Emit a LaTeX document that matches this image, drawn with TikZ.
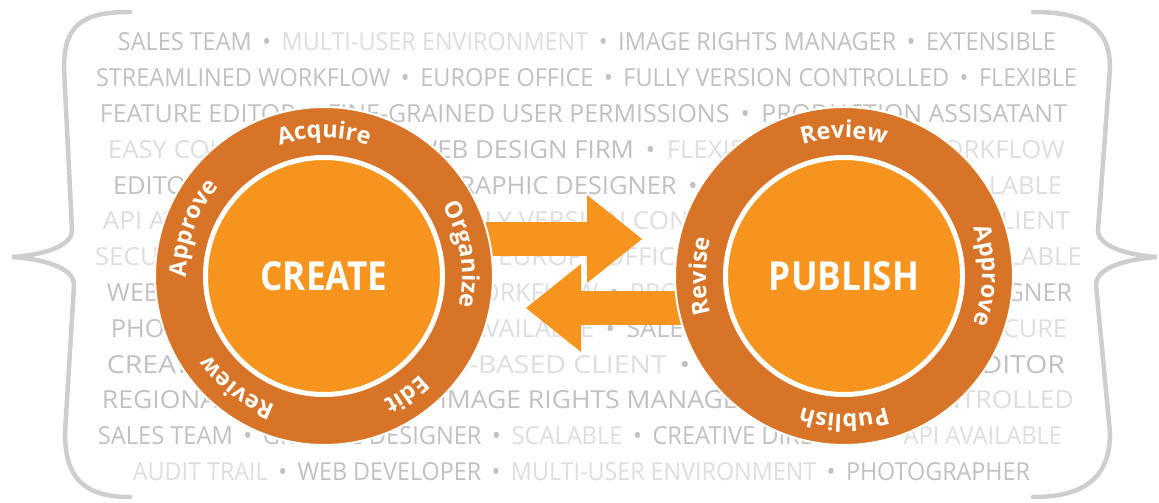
\documentclass[tikz,border=0pt]{standalone}
\usepackage{fontspec}
\setmainfont{Open Sans}
\usetikzlibrary{positioning,arrows.meta,decorations.text}
\definecolor{ringOrange}{HTML}{D87427}
\definecolor{coreOrange}{HTML}{F7941D}
\definecolor{braceGray}{HTML}{CDCED0}
\definecolor{wordGray}{HTML}{C0C1C3}
\definecolor{wordPale}{HTML}{DDDEDF}
\tikzset{
    ring/.style = {draw=white, line width=2pt, circle, fill=ringOrange,
        minimum size=338pt, inner sep=0pt},
    core/.style = {draw=white, line width=5pt, circle, fill=coreOrange,
        minimum size=237pt, inner sep=0pt, text=white, font=\corefont},
    flow/.style = {draw=coreOrange, line width=34pt,
        -{Triangle[length=55pt,width=88pt,line width=0pt]}},
    brace/.style = {draw=braceGray, line width=4.5pt, line cap=round},
    words/.style = {anchor=base, inner sep=0pt, font=\wordfont}
}
\newcommand\corefont{\fontsize{40}{40}\selectfont\bfseries}
\newcommand\wordfont{\fontsize{26}{26}\selectfont}
\newcommand\labelfont{\fontsize{23.5}{23.5}\selectfont\bfseries}
\newcommand\wdark[1]{\textcolor{wordGray}{#1}}
\newcommand\wpale[1]{\textcolor{wordPale}{#1}}
\newcommand\bul{\textcolor{wordGray}{\hspace{.45em}\textbullet\hspace{.45em}}}
% one line of the word cloud: index, centre x, width, words
\newcommand\wordrow[4]{\node[words] (row#1) at (#2, {452-35.8*(#1-1)}) {\resizebox{#3pt}{18pt}{#4}};}
% curved label on a ring: ring node, angle, text
\newcommand\ringlabel[3]{\path[decorate, decoration={text along path, text align=center,
    text color=white, text={|\labelfont|#3}}]
    (#1.center) ++(#2+50:138pt) arc[start angle=#2+50, end angle=#2-50, radius=138pt];}
\pgfdeclarelayer{backdrop}
\pgfdeclarelayer{flows}
\pgfsetlayers{backdrop,flows,main}

\begin{document}
\begin{tikzpicture}[x=1pt, y=1pt]
    \begin{pgfonlayer}{backdrop}
    \fill[white, use as bounding box] (0,0) rectangle (1159,503);
    % braces
    \draw[brace] (130,491) .. controls (82,491) and (64,478) .. (64,435) -- (72,273)
        .. controls (72,256) and (42,248) .. (12,246)
        .. controls (42,244) and (74,236) .. (74,218) -- (65,70)
        .. controls (65,25) and (84,6) .. (130,6);
    \draw[brace] (1033,491) .. controls (1082,491) and (1110,478) .. (1110,435) -- (1098,273)
        .. controls (1098,256) and (1128,248) .. (1157,246)
        .. controls (1128,244) and (1096,236) .. (1096,218) -- (1110,70)
        .. controls (1110,25) and (1084,6) .. (1033,6);
    % word cloud
    \wordrow{1}{587}{938}{\wdark{SALES TEAM}\bul\wpale{MULTI-USER ENVIRONMENT}\bul\wdark{IMAGE RIGHTS MANAGER}\bul\wdark{EXTENSIBLE}}
    \wordrow{2}{586.5}{981}{\wdark{STREAMLINED WORKFLOW}\bul\wdark{EUROPE OFFICE}\bul\wdark{FULLY VERSION CONTROLLED}\bul\wdark{FLEXIBLE}}
    \wordrow{3}{583.5}{967}{\wdark{FEATURE EDITOR}\bul\wdark{FINE-GRAINED USER PERMISSIONS}\bul\wdark{PRODUCTION ASSISATANT}}
    \wordrow{4}{586.5}{957}{\wpale{EASY COLLABORATION}\bul\wdark{WEB DESIGN FIRM}\bul\wpale{FLEXIBLE}\bul\wpale{CUSTOM WORKFLOW}}
    \wordrow{5}{587.5}{949}{\wdark{EDITORIAL DEPARTMENT}\bul\wdark{GRAPHIC DESIGNER}\bul\wpale{WEB DEVELOPER}\bul\wpale{SCALABLE}}
    \wordrow{6}{586.5}{967}{\wpale{API AVAILABLE}\bul\wpale{SECURE}\bul\wpale{FULLY VERSION CONTROLLED}\bul\wpale{WEB-BASED CLIENT}}
    \wordrow{7}{588.5}{987}{\wpale{SECURE}\bul\wpale{CREATIVE DIRECTOR}\bul\wpale{EUROPE OFFICE}\bul\wpale{PHOTOGRAPHER}\bul\wpale{SCALABLE}}
    \wordrow{8}{589.5}{965}{\wdark{WEB EDITOR}\bul\wpale{STREAMLINED WORKFLOW}\bul\wpale{PRODUCTION ASSISTANT}\bul\wdark{DESIGNER}}
    \wordrow{9}{589}{956}{\wdark{PHOTOGRAPHY STUDIO}\bul\wpale{API AVAILABLE}\bul\wdark{SALES TEAM}\bul\wpale{EXTENSIBLE}\bul\wpale{SECURE}}
    \wordrow{10}{586}{958}{\wdark{CREATIVE DIRECTOR}\bul\wpale{WEB-BASED CLIENT}\bul\wpale{SECURE}\bul\wdark{FEATURE EDITOR}}
    \wordrow{11}{588}{972}{\wdark{REGIONAL SALES OFFICE}\bul\wdark{IMAGE RIGHTS MANAGER}\bul\wpale{VERSION CONTROLLED}}
    \wordrow{12}{580}{964}{\wdark{SALES TEAM}\bul\wdark{GRAPHIC DESIGNER}\bul\wpale{SCALABLE}\bul\wdark{CREATIVE DIRECTOR}\bul\wpale{API AVAILABLE}}
    \wordrow{13}{581.5}{897}{\wpale{AUDIT TRAIL}\bul\wdark{WEB DEVELOPER}\bul\wpale{MULTI-USER ENVIRONMENT}\bul\wdark{PHOTOGRAPHER}}
    \end{pgfonlayer}

    \node[ring] (createring) at (324,227) {};
    \node[ring, right=180pt of createring] (publishring) {};
    \node[core] (create) at (createring) {\scalebox{.88}[1]{CREATE}};
    \node[core] (publish) at (publishring) {\scalebox{.88}[1]{PUBLISH}};

    \begin{pgfonlayer}{flows}
    \draw[flow] ([yshift=37pt]createring.center) -- ([xshift=-32pt,yshift=37pt]publishring.west);
    \draw[flow] ([yshift=-32pt]publishring.center) -- ([xshift=32pt,yshift=-32pt]createring.east);
    \end{pgfonlayer}

    \ringlabel{createring}{90}{Acquire}
    \ringlabel{createring}{9}{Organize}
    \ringlabel{createring}{-55}{Edit}
    \ringlabel{createring}{-128}{Review}
    \ringlabel{createring}{160}{Approve}
    \ringlabel{publishring}{90}{Review}
    \ringlabel{publishring}{0}{Approve}
    \ringlabel{publishring}{-90}{Publish}
    \ringlabel{publishring}{180}{Revise}
\end{tikzpicture}
\end{document}
